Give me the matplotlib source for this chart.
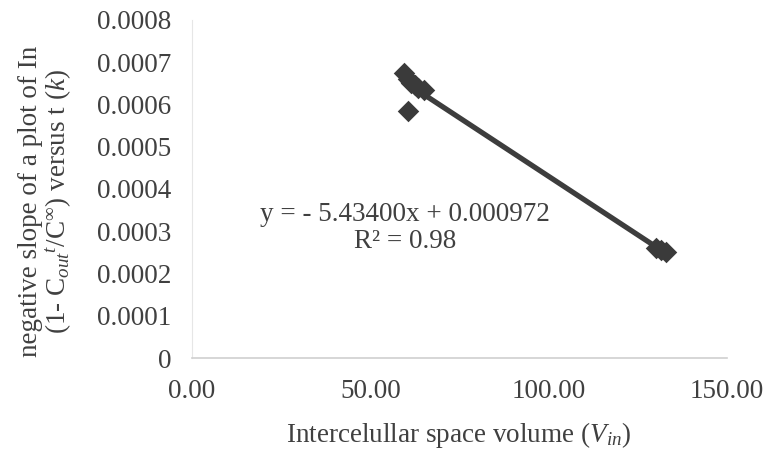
import numpy as np
import matplotlib
matplotlib.use("Agg")
import matplotlib.pyplot as plt

plt.rcParams['font.family'] = ['Liberation Serif', 'DejaVu Serif']
plt.rcParams['mathtext.fontset'] = 'custom'
plt.rcParams['mathtext.rm'] = 'Liberation Serif'
plt.rcParams['mathtext.it'] = 'Liberation Serif:italic'

# data
vin = [59.5, 60.5, 61.5, 62.5, 63.5, 65.0, 60.5, 130.0, 131.5, 133.0]
k = [0.000675, 0.000660, 0.000650, 0.000645, 0.000640, 0.000635, 0.000585,
     0.000260, 0.000255, 0.000250]
yticks = [0, 0.0001, 0.0002, 0.0003, 0.0004, 0.0005, 0.0006, 0.0007, 0.0008]
ytlabels = ["0", "0.0001", "0.0002", "0.0003", "0.0004", "0.0005", "0.0006", "0.0007", "0.0008"]
xticks = [0, 50, 100, 150]
xtlabels = ["0.00", "50.00", "100.00", "150.00"]
eq_text = "y = - 5.43400x + 0.000972\nR² = 0.98"

txtc = "#404040"
fs = 19.5
fig = plt.figure(figsize=(7.67, 4.51), dpi=100)
ax = fig.add_axes([0.2503, 0.2062, 0.6975, 0.7495])

# trend line
p = np.polyfit(vin, k, 1)
xx = np.array([min(vin), max(vin)])
ax.plot(xx, np.polyval(p, xx), color="#3d3d3d", lw=3.8, zorder=2)
ax.scatter(vin, k, marker="D", s=120, color="#3a3a3a", zorder=3, linewidths=0)

ax.set_xlim(0, 150)
ax.set_ylim(0, 0.0008)
ax.set_xticks(xticks)
ax.set_xticklabels(xtlabels)
ax.set_yticks(yticks)
ax.set_yticklabels(ytlabels)
ax.tick_params(length=0, labelsize=fs, colors=txtc)
ax.tick_params(axis='x', pad=15)
ax.tick_params(axis='y', pad=15)

for s in ["top", "right"]:
    ax.spines[s].set_visible(False)
ax.spines["left"].set_color("#e6e6e6")
ax.spines["bottom"].set_color("#d0d0d0")
ax.spines["bottom"].set_linewidth(1.2)

ax.text(0.398, 0.385, eq_text, transform=ax.transAxes, ha="center", va="center",
        fontsize=fs, color=txtc, linespacing=1.1)

fig.text(0.598, 0.036, "Intercelullar space volume ($V_{in}$)", ha="center",
         va="center", fontsize=fs, color=txtc)
fig.text(0.060, 0.554,
         "negative slope of a plot of In\n(1- C$_{out}$$^{t}$/C$^{\\infty}$) versus t ($k$)",
         rotation=90, ha="center", va="center", fontsize=fs, color=txtc,
         linespacing=1.05, multialignment="center")

fig.savefig("out.png", dpi=100)
